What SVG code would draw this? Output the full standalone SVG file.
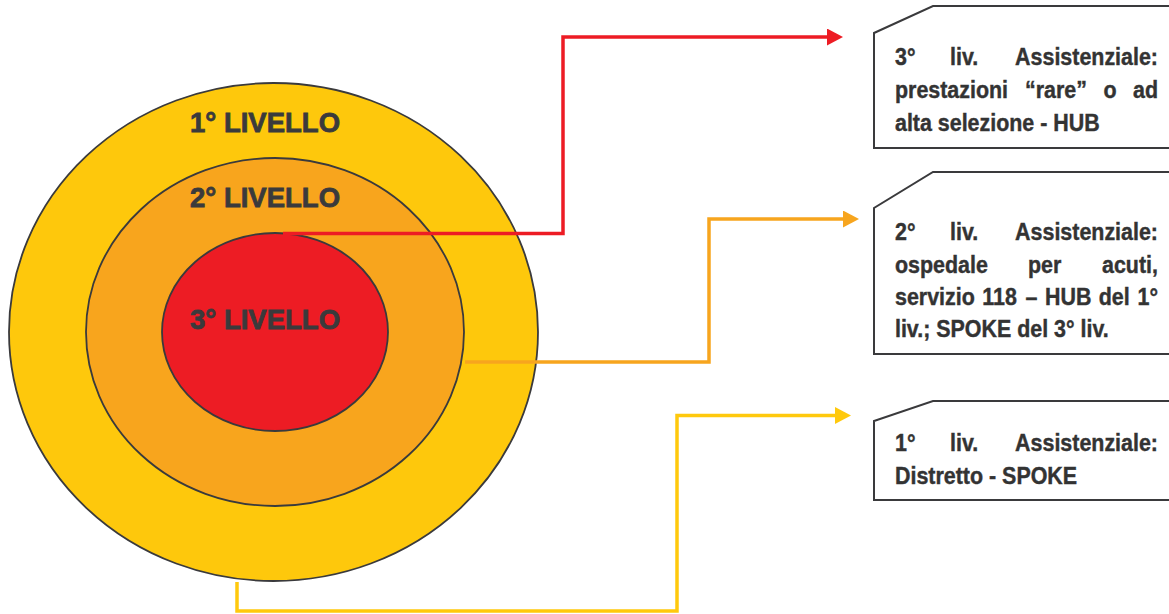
<svg xmlns="http://www.w3.org/2000/svg" width="1169" height="614" viewBox="0 0 1169 614">
<style>
.ring{stroke:#3a3a3c;stroke-width:1.8}
.lvl{font-family:"Liberation Sans",Arial,sans-serif;font-weight:bold;font-size:27.5px;fill:#3a3a3c;stroke:#3a3a3c;stroke-width:0.8}
.box{fill:#fff;stroke:#3a3a3c;stroke-width:2}
.t{font-family:"Liberation Sans",Arial,sans-serif;font-weight:bold;font-size:23.3px;fill:#333;stroke:#333;stroke-width:0.4}
.e{text-anchor:end}
.con{fill:none;stroke-width:3.5;stroke-linejoin:miter}
</style>
<defs>
<marker id="aR" markerUnits="userSpaceOnUse" markerWidth="16" markerHeight="17" viewBox="0 0 16 17" refX="2" refY="8.5" orient="auto"><path d="M0,0 L16,8.5 L0,17 z" fill="#ED1C24"/></marker>
<marker id="aO" markerUnits="userSpaceOnUse" markerWidth="16" markerHeight="17" viewBox="0 0 16 17" refX="2" refY="8.5" orient="auto"><path d="M0,0 L16,8.5 L0,17 z" fill="#F7A51E"/></marker>
<marker id="aY" markerUnits="userSpaceOnUse" markerWidth="16" markerHeight="17" viewBox="0 0 16 17" refX="2" refY="8.5" orient="auto"><path d="M0,0 L16,8.5 L0,17 z" fill="#FFC90D"/></marker>
</defs>
<rect width="1169" height="614" fill="#fff"/>
<g id="level1">
<ellipse class="ring" cx="273.5" cy="332" rx="264.5" ry="249" fill="#FEC80C"/>
<text class="lvl" x="190" y="131.5">1° LIVELLO</text>
</g>
<g id="level2">
<ellipse class="ring" cx="275" cy="332" rx="189" ry="174" fill="#F8A51D"/>
<text class="lvl" x="190" y="206.5">2° LIVELLO</text>
</g>
<g id="level3">
<ellipse class="ring" cx="275" cy="332" rx="113" ry="99" fill="#ED1C24"/>
<text class="lvl" x="190" y="328.5">3° LIVELLO</text>
</g>
<g id="connectors">
<path class="con" stroke="#ED1C24" d="M283,233.5 H563 V37 H829" marker-end="url(#aR)"/>
<path class="con" stroke="#F7A51E" d="M465,362 H709 V219 H845" marker-end="url(#aO)"/>
<path class="con" stroke="#FFC90D" d="M237,582 V611 H677 V415.5 H837" marker-end="url(#aY)"/>
</g>
<g id="box1">
<path class="box" d="M1172,6 H933 L874,33 V148 H1172"/>
<g transform="scale(0.92,1)">
<text class="t" x="972.8" y="65">3°</text>
<text class="t" x="1032.6" y="65">liv.</text>
<text class="t e" x="1258.7" y="65">Assistenziale:</text>
<text class="t" x="972.8" y="98">prestazioni</text>
<text class="t" x="1114.1" y="98">“rare”</text>
<text class="t" x="1199.5" y="98">o</text>
<text class="t e" x="1258.7" y="98">ad</text>
<text class="t" x="972.8" y="131">alta selezione - HUB</text>
</g>
</g>
<g id="box2">
<path class="box" d="M1172,172 H933 L874,208 V354 H1172"/>
<g transform="scale(0.92,1)">
<text class="t" x="972.8" y="240">2°</text>
<text class="t" x="1032.6" y="240">liv.</text>
<text class="t e" x="1258.7" y="240">Assistenziale:</text>
<text class="t" x="972.8" y="273">ospedale</text>
<text class="t" x="1117.4" y="273">per</text>
<text class="t e" x="1258.7" y="273">acuti,</text>
<text class="t" x="972.8" y="305">servizio</text>
<text class="t" x="1067.8" y="305">118</text>
<text class="t" x="1114.8" y="305">–</text>
<text class="t" x="1135.8" y="305">HUB</text>
<text class="t" x="1194.3" y="305">del</text>
<text class="t e" x="1258.7" y="305">1°</text>
<text class="t" x="972.8" y="337">liv.; SPOKE del 3° liv.</text>
</g>
</g>
<g id="box3">
<path class="box" d="M1172,401 H933 L874,421 V500 H1172"/>
<g transform="scale(0.92,1)">
<text class="t" x="972.8" y="451">1°</text>
<text class="t" x="1032.6" y="451">liv.</text>
<text class="t e" x="1258.7" y="451">Assistenziale:</text>
<text class="t" x="972.8" y="484">Distretto - SPOKE</text>
</g>
</g>
</svg>
